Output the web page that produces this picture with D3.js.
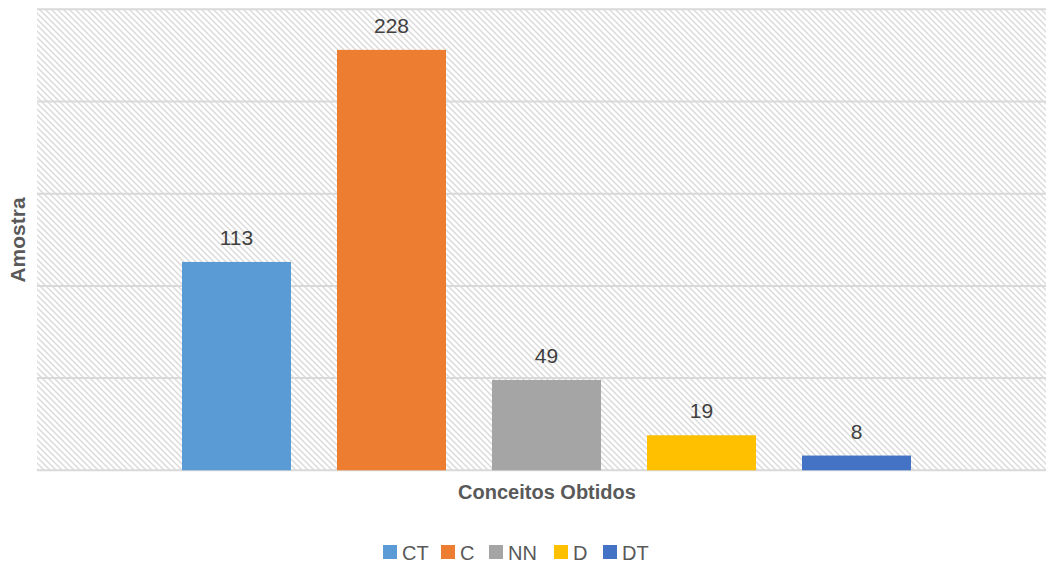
<!DOCTYPE html>
<html>
<head>
<meta charset="utf-8">
<script src="https://cdn.jsdelivr.net/npm/d3@7"></script>
<style>
  html, body { margin: 0; padding: 0; background: #fff; }
  svg { display: block; }
  text { font-family: "Liberation Sans", Arial, sans-serif; }
</style>
</head>
<body>
<svg id="chart" width="1048" height="565"></svg>
<script>
const categories = ["Conceitos Obtidos"];
const seriesNames = ["CT", "C", "NN", "D", "DT"];
const seriesValues = [113, 228, 49, 19, 8];
const seriesColors = ["#5B9BD5", "#ED7D31", "#A5A5A5", "#FFC000", "#4472C4"];
const yTicks = [0, 50, 100, 150, 200, 250];
const yTitle = "Amostra";

const svg = d3.select("#chart");
const plot = { left: 37, right: 1046, top: 9.3, bottom: 470.3 };

// hatch pattern
const defs = svg.append("defs");
const pat = defs.append("pattern")
  .attr("id", "hatch").attr("patternUnits", "userSpaceOnUse")
  .attr("width", 6).attr("height", 6);
pat.append("rect").attr("width", 6).attr("height", 6).attr("fill", "#fff");
pat.append("path").attr("d", "M-1,-1 L7,7 M-1,5 L1,7 M5,-1 L7,1")
  .attr("stroke", "#dadada").attr("stroke-width", 1.4);

const y = d3.scaleLinear().domain([0, 250]).range([plot.bottom, plot.top]);

const x = d3.scaleBand().domain(seriesNames)
  .range([159, 934]).paddingInner(46 / 155).paddingOuter(23 / 155);

svg.append("rect")
  .attr("x", plot.left).attr("y", plot.top)
  .attr("width", plot.right - plot.left).attr("height", plot.bottom - plot.top)
  .attr("fill", "url(#hatch)");

// gridlines
svg.append("g").selectAll("line").data(yTicks).join("line")
  .attr("x1", plot.left).attr("x2", plot.right)
  .attr("y1", d => y(d)).attr("y2", d => y(d))
  .attr("stroke", "#d9d9d9").attr("stroke-width", 2);

// bars
const data = seriesNames.map((s, i) => ({ s, v: seriesValues[i], c: seriesColors[i] }));
svg.append("g").selectAll("rect").data(data).join("rect")
  .attr("x", d => x(d.s)).attr("width", x.bandwidth())
  .attr("y", d => y(d.v)).attr("height", d => y(0) - y(d.v))
  .attr("fill", d => d.c);

// labels
svg.append("g").selectAll("text").data(data).join("text")
  .attr("x", d => x(d.s) + x.bandwidth() / 2)
  .attr("y", d => y(d.v) - 17)
  .attr("text-anchor", "middle")
  .attr("font-size", 21).attr("fill", "#404040")
  .text(d => d.v);

// axis titles
svg.append("text")
  .attr("x", 547).attr("y", 499)
  .attr("text-anchor", "middle").attr("font-size", 20).attr("font-weight", "bold")
  .attr("fill", "#595959").text(categories[0]);

svg.append("text")
  .attr("transform", "translate(25,240) rotate(-90)")
  .attr("text-anchor", "middle").attr("font-size", 21).attr("font-weight", "bold")
  .attr("fill", "#595959").text(yTitle);

// legend
const legX = [383, 441, 489, 554, 603];
const leg = svg.append("g").selectAll("g").data(data).join("g")
  .attr("transform", (d, i) => `translate(${legX[i]},545)`);
leg.append("rect").attr("width", 14).attr("height", 14).attr("fill", d => d.c);
leg.append("text").attr("x", 19).attr("y", 14.5)
  .attr("font-size", 20).attr("fill", "#595959").text(d => d.s);
</script>
</body>
</html>
